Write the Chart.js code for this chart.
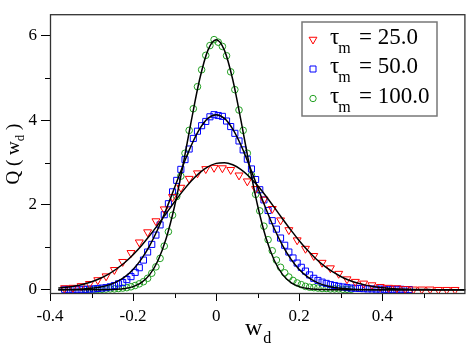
<!DOCTYPE html>
<html><head><meta charset="utf-8">
<script src="https://cdn.jsdelivr.net/npm/chart.js@4/dist/chart.umd.min.js"></script>
<style>html,body{margin:0;padding:0;background:#fff}</style>
</head><body>
<canvas id="c" width="471" height="347"></canvas>
<script>
// ---- data ----
const redX=[-0.365,-0.345,-0.325,-0.305,-0.285,-0.265,-0.245,-0.225,-0.205,-0.185,-0.165,-0.145,-0.125,-0.105,-0.085,-0.065,-0.045,-0.025,-0.005,0.015,0.035,0.055,0.075,0.095,0.115,0.135,0.155,0.175,0.195,0.215,0.235,0.255,0.275,0.295,0.315,0.335,0.355,0.375,0.395,0.415,0.435,0.455,0.475,0.495,0.515,0.535,0.555,0.575];
const redY=[0.04,0.05,0.09,0.14,0.23,0.32,0.47,0.66,0.87,1.12,1.36,1.62,1.90,2.19,2.41,2.62,2.75,2.85,2.88,2.87,2.83,2.70,2.56,2.38,2.13,1.91,1.64,1.41,1.17,0.97,0.80,0.64,0.51,0.38,0.25,0.19,0.15,0.11,0.07,0.05,0.04,0.02,0.01,0.01,0.01,0.0,0.0,0.0];

const blueX=[-0.365,-0.355,-0.345,-0.335,-0.325,-0.315,-0.305,-0.295,-0.285,-0.275,-0.265,-0.255,-0.245,-0.235,-0.225,-0.215,-0.205,-0.195,-0.185,-0.175,-0.165,-0.155,-0.145,-0.135,-0.125,-0.115,-0.105,-0.095,-0.085,-0.075,-0.065,-0.055,-0.045,-0.035,-0.025,-0.015,-0.005,0.005,0.015,0.025,0.035,0.045,0.055,0.065,0.075,0.085,0.095,0.105,0.115,0.125,0.135,0.145,0.155,0.165,0.175,0.185,0.195,0.205,0.215,0.225,0.235,0.245,0.255,0.265,0.275,0.285,0.295,0.305,0.315,0.325,0.335,0.345,0.355,0.365,0.375,0.385,0.395,0.405,0.415,0.425,0.435,0.445,0.455,0.465];
const blueY=[0.01,0.01,0.01,0.01,0.01,0.01,0.015,0.02,0.03,0.04,0.05,0.07,0.10,0.14,0.17,0.24,0.31,0.41,0.52,0.70,0.89,1.07,1.29,1.53,1.77,2.03,2.31,2.58,2.84,3.07,3.32,3.57,3.74,3.87,3.97,4.08,4.13,4.11,4.09,3.98,3.85,3.69,3.51,3.30,3.08,2.85,2.60,2.36,2.12,1.87,1.63,1.43,1.22,1.05,0.89,0.75,0.63,0.53,0.44,0.35,0.27,0.22,0.18,0.15,0.12,0.10,0.08,0.065,0.05,0.04,0.035,0.03,0.025,0.02,0.02,0.015,0.015,0.01,0.01,0.01,0.01,0.01,0.005,0.005];

const greenX=[-0.315,-0.305,-0.295,-0.285,-0.275,-0.265,-0.255,-0.245,-0.235,-0.225,-0.215,-0.205,-0.195,-0.185,-0.175,-0.165,-0.155,-0.145,-0.135,-0.125,-0.115,-0.105,-0.095,-0.085,-0.075,-0.065,-0.055,-0.045,-0.035,-0.025,-0.015,-0.005,0.005,0.015,0.025,0.035,0.045,0.055,0.065,0.075,0.085,0.095,0.105,0.115,0.125,0.135,0.145,0.155,0.165,0.175,0.185,0.195,0.205,0.215,0.225,0.235,0.245,0.255,0.265,0.275,0.285,0.295,0.305,0.315,0.325];
const greenY=[0.01,0.01,0.01,0.01,0.01,0.015,0.02,0.02,0.03,0.04,0.05,0.07,0.10,0.14,0.19,0.27,0.39,0.54,0.74,1.03,1.37,1.76,2.20,2.68,3.22,3.76,4.27,4.79,5.19,5.53,5.76,5.90,5.84,5.74,5.52,5.14,4.72,4.24,3.76,3.22,2.70,2.25,1.86,1.50,1.18,0.92,0.70,0.53,0.40,0.30,0.22,0.16,0.12,0.08,0.06,0.05,0.04,0.03,0.03,0.02,0.02,0.02,0.01,0.01,0.01];

// fitted curves (black lines)
const curveX=[-0.38,-0.36,-0.34,-0.32,-0.30,-0.28,-0.26,-0.24,-0.22,-0.20,-0.18,-0.16,-0.14,-0.12,-0.10,-0.08,-0.06,-0.04,-0.02,0.00,0.02,0.04,0.06,0.08,0.10,0.12,0.14,0.16,0.18,0.20,0.22,0.24,0.26,0.28,0.30,0.32,0.34,0.36,0.38,0.40,0.42,0.44,0.46,0.48,0.50,0.52,0.54,0.56,0.58,0.60];
const redFit=[0.039,0.060,0.090,0.132,0.189,0.266,0.365,0.490,0.644,0.828,1.040,1.279,1.537,1.806,2.076,2.333,2.565,2.758,2.900,2.981,2.998,2.948,2.836,2.667,2.453,2.207,1.942,1.670,1.406,1.157,0.931,0.733,0.564,0.425,0.313,0.225,0.158,0.109,0.073,0.048,0.031,0.020,0.012,0.007,0.004,0.003,0.001,0.001,0.0,0.0];
const blueFit=[0.002,0.004,0.008,0.017,0.033,0.061,0.109,0.186,0.306,0.480,0.723,1.042,1.439,1.904,2.412,2.927,3.403,3.789,4.042,4.130,4.042,3.789,3.403,2.927,2.412,1.904,1.439,1.042,0.723,0.480,0.306,0.186,0.109,0.061,0.033,0.017,0.008,0.004,0.002,0,0,0,0,0,0,0,0,0,0,0];
const greenFit=[0,0,0,0,0,0.001,0.004,0.011,0.030,0.074,0.170,0.358,0.691,1.221,1.975,2.929,3.979,4.953,5.647,5.900,5.647,4.953,3.979,2.929,1.975,1.221,0.691,0.358,0.170,0.074,0.030,0.011,0.004,0.001,0,0,0,0,0,0,0,0,0,0,0,0,0,0,0,0];

const xMajor=[-0.4,-0.2,0,0.2,0.4];
const xMinor=[-0.3,-0.1,0.1,0.3,0.5];
const yMajor=[0,2,4,6];
const yMinor=[1,3,5];
const legendLabels=['25.0','50.0','100.0'];

const FONT='"Liberation Serif","Times New Roman",serif';
const RED='#ff0000', BLUE='#0000ff', GREEN='#22a022';
const pts=(xs,ys)=>xs.map((x,i)=>({x:x,y:ys[i]}));

function drawMarker(ctx,style,x,y){
  ctx.beginPath();
  if(style==='tri'){ const r=4.5; ctx.moveTo(x,y+r); ctx.lineTo(x-r*0.866,y-r/2); ctx.lineTo(x+r*0.866,y-r/2); ctx.closePath(); ctx.strokeStyle=RED; }
  else if(style==='sq'){ ctx.rect(x-3,y-3,6,6); ctx.strokeStyle=BLUE; }
  else { ctx.arc(x,y,3.2,0,Math.PI*2); ctx.strokeStyle=GREEN; }
  ctx.lineWidth=1; ctx.stroke();
}

const extras={
  id:'extras',
  afterDraw(chart){
    const ctx=chart.ctx, a=chart.chartArea, sx=chart.scales.x, sy=chart.scales.y;
    ctx.save();
    ctx.strokeStyle='#000'; ctx.lineWidth=1;
    xMinor.forEach(v=>{const p=Math.round(sx.getPixelForValue(v))+0.5; ctx.beginPath(); ctx.moveTo(p,a.bottom); ctx.lineTo(p,a.bottom+4); ctx.stroke();});
    yMinor.forEach(v=>{const p=Math.round(sy.getPixelForValue(v))+0.5; ctx.beginPath(); ctx.moveTo(a.left,p); ctx.lineTo(a.left-5,p); ctx.stroke();});
    // frame
    ctx.strokeStyle='#333'; ctx.lineWidth=1.3;
    ctx.strokeRect(a.left+0.5,a.top+0.5,a.right-a.left-1,a.bottom-a.top-1);
    // axis titles
    ctx.fillStyle='#000';
    ctx.textBaseline='alphabetic';
    // x title w_d
    ctx.font='24px '+FONT;
    const cx=(a.left+a.right)/2;
    const ww=ctx.measureText('w').width;
    ctx.font='16px '+FONT; const dw=ctx.measureText('d').width;
    let x0=cx-(ww+dw)/2;
    ctx.font='24px '+FONT; ctx.fillText('w',x0,335);
    ctx.font='16px '+FONT; ctx.fillText('d',x0+ww+1,343);
    // y title Q ( w_d )
    ctx.save();
    const cy=(a.top+a.bottom)/2;
    ctx.translate(19,cy); ctx.rotate(-Math.PI/2);
    ctx.font='19px '+FONT;
    const p1='Q ( w', p3=' )';
    const w1=ctx.measureText(p1).width, w3=ctx.measureText(p3).width;
    ctx.font='13px '+FONT; const w2=ctx.measureText('d').width;
    let tx=-(w1+w2+w3)/2;
    ctx.font='19px '+FONT; ctx.fillText(p1,tx,0);
    ctx.font='13px '+FONT; ctx.fillText('d',tx+w1,5);
    ctx.font='19px '+FONT; ctx.fillText(p3,tx+w1+w2,0);
    ctx.restore();
    // legend
    ctx.fillStyle='#fff'; ctx.fillRect(302,22,135,94);
    ctx.strokeStyle='#777'; ctx.lineWidth=1.5; ctx.strokeRect(302,22,135,94);
    const styles=['tri','sq','circ'];
    ctx.fillStyle='#000';
    for(let i=0;i<3;i++){
      const by=43.5+i*29.5;
      drawMarker(ctx,styles[i],313,by-4);
      ctx.font='23px '+FONT; ctx.fillText('τ',330,by);
      const tw=ctx.measureText('τ').width;
      ctx.font='16px '+FONT; ctx.fillText('m',330+tw-1,by+9);
      ctx.font='23px '+FONT; ctx.fillText('= '+legendLabels[i],359,by);
    }
    ctx.restore();
  }
};

new Chart(document.getElementById('c'),{
  type:'scatter',
  data:{datasets:[
    {label:'fit 25',data:pts(curveX,redFit),showLine:true,borderColor:'#000',borderWidth:1.5,pointRadius:0,cubicInterpolationMode:'monotone'},
    {label:'fit 50',data:pts(curveX,blueFit),showLine:true,borderColor:'#000',borderWidth:1.5,pointRadius:0,cubicInterpolationMode:'monotone'},
    {label:'fit 100',data:pts(curveX,greenFit),showLine:true,borderColor:'#000',borderWidth:1.5,pointRadius:0,cubicInterpolationMode:'monotone'},
    {label:'τm = 25.0',data:pts(redX,redY),pointStyle:'triangle',rotation:180,pointRadius:4.6,borderColor:RED,backgroundColor:'rgba(0,0,0,0)',borderWidth:1},
    {label:'τm = 50.0',data:pts(blueX,blueY),pointStyle:'rect',pointRadius:4.3,borderColor:BLUE,backgroundColor:'rgba(0,0,0,0)',borderWidth:1},
    {label:'τm = 100.0',data:pts(greenX,greenY),pointStyle:'circle',pointRadius:3.3,borderColor:GREEN,backgroundColor:'rgba(0,0,0,0)',borderWidth:1}
  ]},
  options:{
    responsive:false,animation:false,
    layout:{padding:{top:1,right:1,left:0,bottom:0}},
    plugins:{legend:{display:false},tooltip:{enabled:false}},
    scales:{
      x:{type:'linear',min:-0.4,max:0.6,
        afterBuildTicks:s=>{s.ticks=xMajor.map(v=>({value:v}));},
        afterFit:s=>{s.height=53;},
        ticks:{stepSize:0.2,color:'#000',padding:5,maxRotation:0,autoSkip:false,font:{family:FONT,size:17},
          callback:v=>Math.abs(v)<1e-9?'0':v.toFixed(1)},
        grid:{drawOnChartArea:false,drawTicks:true,tickLength:7,color:'#000'},
        border:{display:false}},
      y:{type:'linear',min:-0.1,max:6.5,
        afterBuildTicks:s=>{s.ticks=yMajor.map(v=>({value:v}));},
        afterFit:s=>{s.width=50;},
        ticks:{stepSize:2,color:'#000',padding:4,autoSkip:false,font:{family:FONT,size:17},callback:v=>String(v)},
        grid:{drawOnChartArea:false,drawTicks:true,tickLength:9,color:'#000'},
        border:{display:false}}
    }
  },
  plugins:[extras]
});
</script>
</body></html>
